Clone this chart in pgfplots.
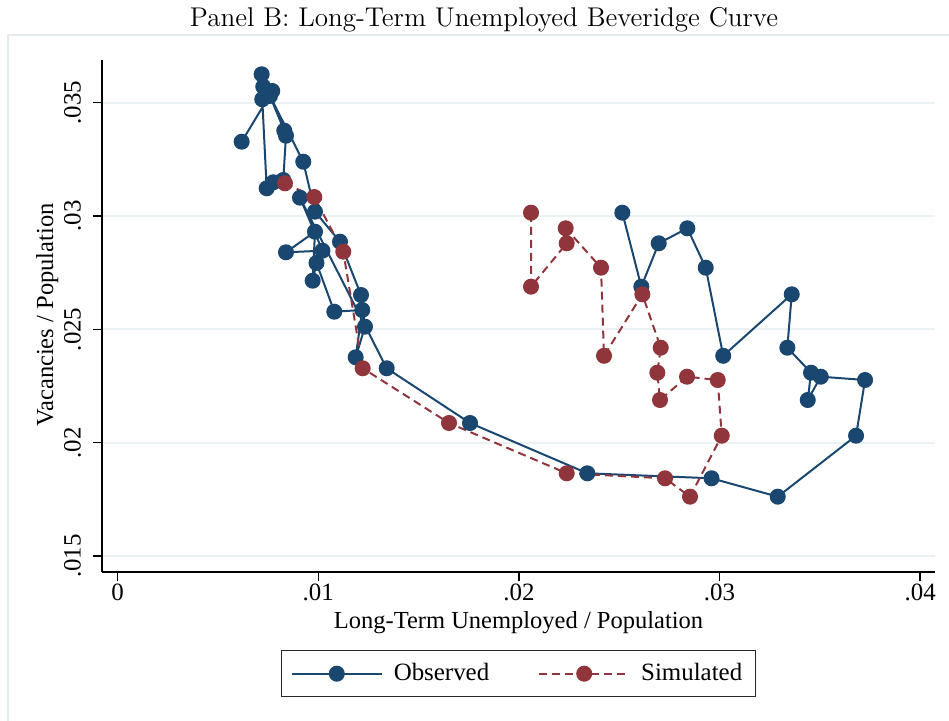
\documentclass[border=0pt]{standalone}
\usepackage{fontspec}
\usepackage{pgfplots}
\pgfplotsset{compat=1.18}
\newfontfamily\tnr{Liberation Serif}
\definecolor{sblue}{HTML}{1A476F}
\definecolor{sred}{HTML}{90353B}
\definecolor{gridc}{HTML}{EAF2F3}
\definecolor{boxc}{HTML}{E4ECEF}
\begin{document}
\begin{tikzpicture}
\begin{axis}[name=ax, at={(0,0)}, anchor=south west,
  scale only axis, width=416.5bp, height=256bp,
  xmin=-0.00078, xmax=0.04074, ymin=0.014294, ymax=0.036884,
  axis x line*=bottom, axis y line*=left,
  axis line style={-, line width=0.75bp, black},
  scaled ticks=false,
  xtick={0,0.01,0.02,0.03,0.04}, xticklabels={0,.01,.02,.03,.04},
  ytick={0.015,0.02,0.025,0.03,0.035}, yticklabels={.015,.02,.025,.03,.035},
  tick align=outside, major tick length=4.5bp,
  tick style={line width=0.75bp, black},
  ymajorgrids, major grid style={gridc, line width=1bp},
  ticklabel style={font=\tnr\fontsize{12.5}{14}\selectfont},
  xticklabel style={yshift=2bp},
  yticklabel style={xshift=-2.5bp, rotate=90, anchor=south},
  xlabel={Long-Term Unemployed / Population},
  ylabel={Vacancies / Population},
  label style={font=\tnr\fontsize{12.3}{14}\selectfont},
  xlabel style={at={(axis description cs:0.5,-0.1094)}, anchor=base},
  ylabel style={at={(axis description cs:-0.0588,0.502)}, anchor=base},
  legend style={at={(axis description cs:0.5,-0.1523)}, anchor=north,
    legend columns=2, draw=black!85, line width=0.6bp,
    font=\tnr\fontsize{12.5}{14}\selectfont,
    /tikz/every odd column/.append style={column sep=3.5bp},
    /tikz/every even column/.append style={column sep=22.5bp},
    inner xsep=4.5bp, inner ysep=4.5bp},
  legend image code/.code={\draw[mark repeat=2,mark phase=2] plot coordinates {(0bp,0bp) (22.5bp,0bp) (45bp,0bp)};},
  clip=false,
]
\addplot[sblue, line width=1bp, mark=*, mark size=3.5bp, mark options={fill=sblue, draw=sblue}] coordinates {
(0.006181,0.033279)
(0.007707,0.035516)
(0.007178,0.036253)
(0.007258,0.035706)
(0.007208,0.035150)
(0.007428,0.031223)
(0.007757,0.031488)
(0.008255,0.031589)
(0.008390,0.033544)
(0.008305,0.033765)
(0.007592,0.035296)
(0.009252,0.032397)
(0.009836,0.030191)
(0.011082,0.028867)
(0.012129,0.026516)
(0.012328,0.025117)
(0.011864,0.023767)
(0.012193,0.025854)
(0.010798,0.025779)
(0.009910,0.027928)
(0.009721,0.027147)
(0.009836,0.029308)
(0.008390,0.028400)
(0.010209,0.028470)
(0.009088,0.030809)
(0.013410,0.023282)
(0.017562,0.020868)
(0.023410,0.018649)
(0.029601,0.018428)
(0.032901,0.017617)
(0.036805,0.020308)
(0.037253,0.022765)
(0.035045,0.022911)
(0.034397,0.021883)
(0.034561,0.023087)
(0.033380,0.024190)
(0.033599,0.026546)
(0.030184,0.023833)
(0.029312,0.027720)
(0.028395,0.029458)
(0.026969,0.028797)
(0.026102,0.026882)
(0.025155,0.030147)
};
\addlegendentry{Observed}
\addplot[sred, line width=1bp, dash pattern=on 4bp off 2.5bp, mark=*, mark size=3.5bp, mark options={solid, fill=sred, draw=sred}] coordinates {
(0.008340,0.031444)
(0.009801,0.030839)
(0.011246,0.028426)
(0.012213,0.023282)
(0.016515,0.020868)
(0.022383,0.018649)
(0.027283,0.018428)
(0.028529,0.017617)
(0.030110,0.020308)
(0.029910,0.022765)
(0.028380,0.022911)
(0.027034,0.021883)
(0.026899,0.023087)
(0.027069,0.024190)
(0.026152,0.026546)
(0.024242,0.023833)
(0.024093,0.027720)
(0.022333,0.029458)
(0.022383,0.028797)
(0.020603,0.026882)
(0.020603,0.030147)
};
\addlegendentry{Simulated\hspace{9.5bp}}
\end{axis}
\begin{scope}[shift={(ax.south west)}]
\draw[boxc, line width=1bp] (-47bp,-80bp) -- (-47bp,268.5bp) -- (430bp,268.5bp);
\node[anchor=base, font=\fontsize{13.6}{15}\selectfont] at (191bp,272.5bp) {Panel B: Long-Term Unemployed Beveridge Curve};
\end{scope}
\pgfresetboundingbox
\path[use as bounding box, shift={(ax.south west)}] (-51bp,-74.5bp) rectangle (423.5bp,286bp);
\end{tikzpicture}
\end{document}
